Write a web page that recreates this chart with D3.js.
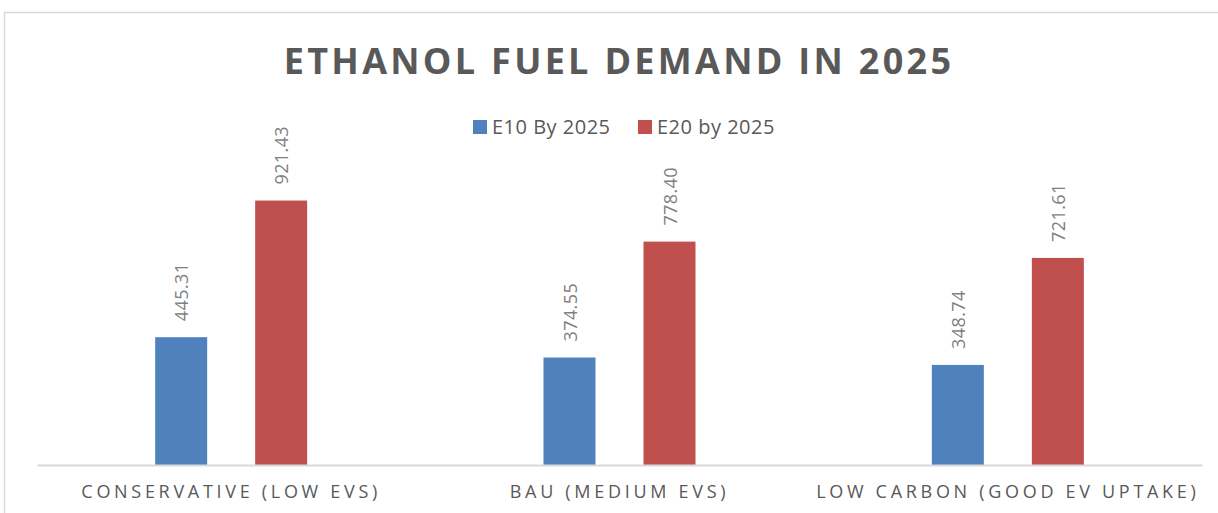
<!DOCTYPE html>
<html>
<head>
<meta charset="utf-8">
<script src="https://cdn.jsdelivr.net/npm/d3@7"></script>
<style>
  body { margin: 0; background: #fff; }
  text { font-family: "Open Sans", "Noto Sans", sans-serif; fill: #595959; }
</style>
</head>
<body>
<div id="chart"></div>
<script>
// chart data
const categories = ['CONSERVATIVE (LOW EVS)', 'BAU (MEDIUM EVS)', 'LOW CARBON (GOOD EV UPTAKE)'];
const seriesNames = ['E10 By 2025', 'E20 by 2025'];
const e10Values = [445.31, 374.55, 348.74];
const e20Values = [921.43, 778.40, 721.61];
const colors = ['#4f81bd', '#c0504d'];

const width = 1218;
const height = 513;
const margin = { top: 178, right: 16, bottom: 48, left: 37 };

const svg = d3.select('#chart')
    .append('svg')
    .attr('width', width)
    .attr('height', height);

// outer frame
svg.append('rect')
    .attr('x', 4.5).attr('y', 12.5)
    .attr('width', 1230).attr('height', 520)
    .attr('fill', 'none')
    .attr('stroke', '#d9d9d9')
    .attr('stroke-width', 1.5);

const rows = categories.map((c, i) => ({ cat: c, values: [e10Values[i], e20Values[i]] }));

// scales
const x0 = d3.scaleBand()
    .domain(categories)
    .range([margin.left, width - margin.right])
    .paddingInner(0)
    .paddingOuter(0);

const x1 = d3.scaleBand()
    .domain(seriesNames)
    .range([x0.bandwidth() / 2 - 76, x0.bandwidth() / 2 + 76])
    .paddingInner(0.48)
    .paddingOuter(0);

const y = d3.scaleLinear()
    .domain([0, 1000])
    .range([height - margin.bottom, margin.top]);

// bars
const groups = svg.selectAll('.group')
    .data(rows)
    .enter()
    .append('g')
    .attr('class', 'group')
    .attr('transform', d => `translate(${x0(d.cat)},0)`);

groups.selectAll('rect')
    .data(d => d.values.map((v, i) => ({ key: seriesNames[i], value: v, idx: i })))
    .enter()
    .append('rect')
    .attr('x', d => x1(d.key))
    .attr('y', d => y(d.value))
    .attr('width', x1.bandwidth())
    .attr('height', d => y(0) - y(d.value))
    .attr('fill', d => colors[d.idx]);

// rotated value labels
groups.selectAll('.val')
    .data(d => d.values.map((v, i) => ({ key: seriesNames[i], value: v })))
    .enter()
    .append('text')
    .attr('class', 'val')
    .attr('transform', d => `translate(${x1(d.key) + x1.bandwidth() / 2 + 7},${y(d.value) - 16}) rotate(-90)`)
    .attr('font-size', 18)
    .style('letter-spacing', '0.4px')
    .style('fill', '#7f7f7f')
    .text(d => d3.format('.2f')(d.value));

// x axis
const xAxis = d3.axisBottom(x0).tickSize(0).tickPadding(20);
const gx = svg.append('g')
    .attr('class', 'x-axis')
    .attr('transform', `translate(0,${y(0)})`)
    .call(xAxis);

gx.select('.domain').attr('stroke', '#d9d9d9').attr('stroke-width', 2);
gx.selectAll('.tick text')
    .attr('font-size', 18)
    .style('letter-spacing', '3.7px')
    .style('font-family', '"Open Sans", sans-serif')
    .attr('fill', '#595959');

// title
svg.append('text')
    .attr('x', 619)
    .attr('y', 74)
    .attr('text-anchor', 'middle')
    .attr('font-size', 36)
    .attr('font-weight', 'bold')
    .style('letter-spacing', '3.3px')
    .text('ETHANOL FUEL DEMAND IN 2025');

// legend
const legend = svg.append('g').attr('class', 'legend');
const legendX = [473, 638];
seriesNames.forEach((name, i) => {
    legend.append('rect')
        .attr('x', legendX[i]).attr('y', 120)
        .attr('width', 14).attr('height', 14)
        .attr('fill', colors[i]);
    legend.append('text')
        .attr('x', legendX[i] + 19)
        .attr('y', 134)
        .attr('font-size', 20)
        .style('letter-spacing', '0.5px')
        .text(name);
});
</script>
</body>
</html>
